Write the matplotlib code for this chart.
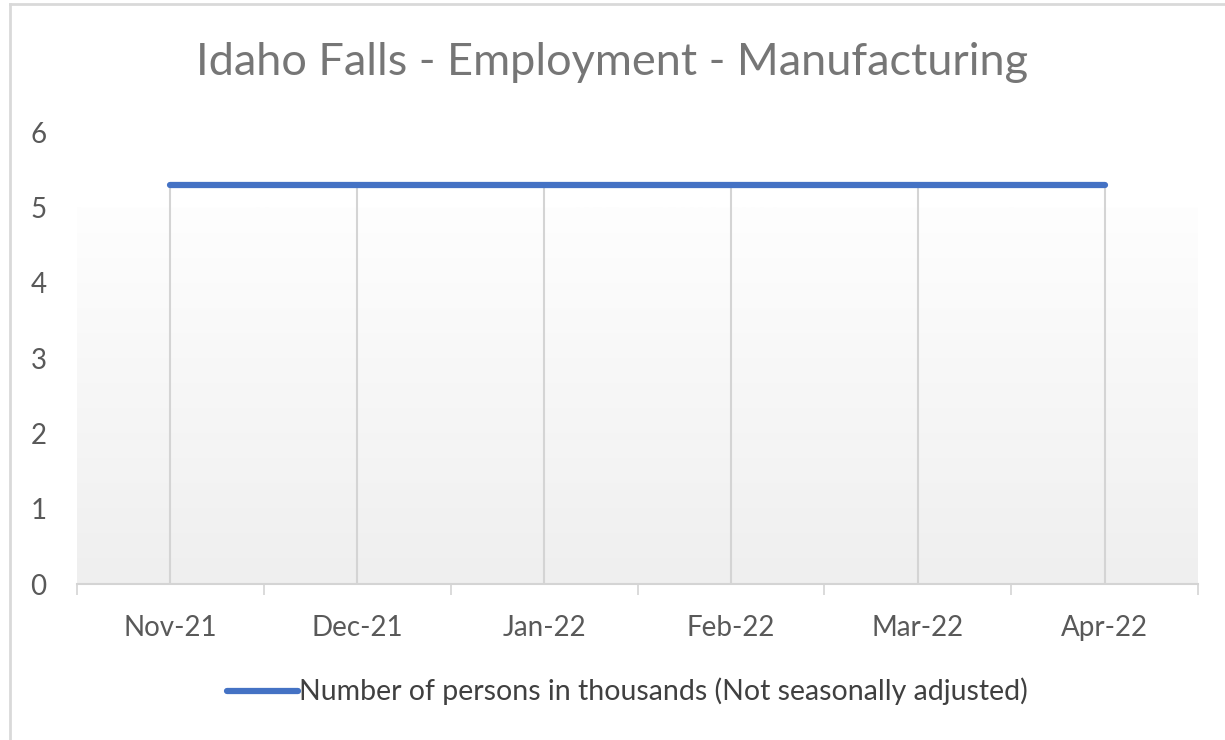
import matplotlib.pyplot as plt
import numpy as np
from matplotlib.colors import LinearSegmentedColormap

months = ["Nov-21", "Dec-21", "Jan-22", "Feb-22", "Mar-22", "Apr-22"]
employment = [5.3, 5.3, 5.3, 5.3, 5.3, 5.3]
series_name = "Number of persons in thousands (Not seasonally adjusted)"
title = "Idaho Falls - Employment - Manufacturing"

plt.rcParams['font.family'] = ['Lato', 'DejaVu Sans']

fig = plt.figure(figsize=(12.25, 7.4), dpi=100)
ax = fig.add_axes([0.0629, 0.2108, 0.9151, 0.6108])

x = np.arange(len(months))

# plot-area gradient (white at top -> light gray at bottom)
cmap = LinearSegmentedColormap.from_list("bg", ["#efefef", "#fefefe"])
grad = np.linspace(0, 1, 256).reshape(-1, 1)
ax.imshow(grad, extent=[-0.5, len(months) - 0.5, 0, 5], origin="lower",
          aspect="auto", cmap=cmap, zorder=0)

# drop lines
ax.vlines(x, 0, employment, color="#d4d4d4", lw=1.5, zorder=1)
ax.plot(x, employment, color="#4472c4", lw=4.5, solid_capstyle="round",
        label=series_name, zorder=3)

ax.set_xlim(-0.5, len(months) - 0.5)
ax.set_ylim(0, 6)
ax.set_yticks(range(0, 7))
ax.set_xticks(x)
ax.set_xticklabels(months)
ax.set_xticks(np.arange(-0.5, len(months)), minor=True)
ax.tick_params(axis="x", which="major", length=0, pad=22, labelsize=20,
               labelcolor="#595959")
ax.tick_params(axis="x", which="minor", length=8, width=1.2, color="#d4d4d4")
ax.tick_params(axis="y", length=0, pad=22, labelsize=20, labelcolor="#595959")

for s in ["top", "right", "left"]:
    ax.spines[s].set_visible(False)
ax.spines["bottom"].set_color("#d4d4d4")
ax.spines["bottom"].set_linewidth(1.5)

fig.suptitle(title, y=0.943, fontsize=32.5, color="#767676")

fig.legend(loc="lower center", bbox_to_anchor=(0.512, 0.012), frameon=False,
           fontsize=20.5, handlelength=2.5, handletextpad=0.05,
           labelcolor="#404040")

# chart border
fig.add_artist(plt.Line2D([0.008, 0.008], [0.0, 0.995], color="#d9d9d9", lw=2))
fig.add_artist(plt.Line2D([0.008, 1.0], [0.995, 0.995], color="#d9d9d9", lw=2))

fig.savefig("out.png", dpi=100)
